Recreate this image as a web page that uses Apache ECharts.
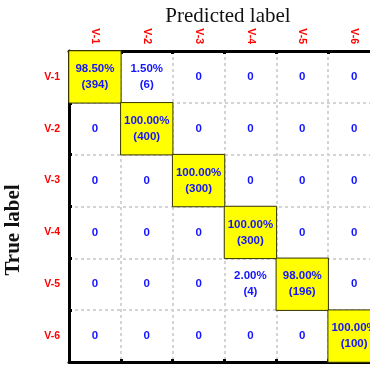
<!DOCTYPE html>
<html><head><meta charset="utf-8">
<script src="https://cdn.jsdelivr.net/npm/echarts@6/dist/echarts.min.js"></script>
<style>html,body{margin:0;padding:0;background:#fff}#c{width:370px;height:365px}</style>
</head><body><div id="c"></div>
<script>
const categories = ['V-1','V-2','V-3','V-4','V-5','V-6'];
// rows = true label, columns = predicted label
const counts = [
  [394, 6, 0, 0, 0, 0],
  [0, 400, 0, 0, 0, 0],
  [0, 0, 300, 0, 0, 0],
  [0, 0, 0, 300, 0, 0],
  [0, 0, 0, 4, 196, 0],
  [0, 0, 0, 0, 0, 100]
];
const xTitle = 'Predicted label';
const yTitle = 'True label';

const data = [];
counts.forEach((row, r) => {
  const total = row.reduce((a, b) => a + b, 0);
  row.forEach((v, c) => {
    const label = v === 0 ? '0' : (v / total * 100).toFixed(2) + '%\n(' + v + ')';
    data.push({
      value: [c, r, v],
      label: { formatter: label },
      itemStyle: r === c
        ? { color: '#ffff00', borderColor: '#333300', borderWidth: 1 }
        : { color: 'rgba(0,0,0,0)', borderWidth: 0 }
    });
  });
});

const chart = echarts.init(document.getElementById('c'), null, { renderer: 'canvas' });
const split = { show: true, interval: 0, lineStyle: { color: '#d4d4d4', width: 2, type: [3, 3] } };
const tick = { show: true, inside: true, length: 3, interval: 0, lineStyle: { color: '#000', width: 3 } };
const lblFont = { color: '#ff0000', fontWeight: 'bold', fontSize: 10.5, fontFamily: 'Liberation Sans, Arial', interval: 0 };
chart.setOption({
  animation: false,
  grid: { left: 69, top: 51, width: 311, height: 311, containLabel: false, outerBoundsMode: 'none' },
  xAxis: [{
    type: 'category', data: categories, position: 'top',
    axisLine: { show: true, lineStyle: { color: '#000', width: 3 } },
    axisTick: tick, splitLine: split,
    axisLabel: Object.assign({ rotate: 90, margin: 7 }, lblFont)
  }, {
    type: 'category', data: categories, position: 'bottom',
    axisLine: { show: true, lineStyle: { color: '#000', width: 3 } },
    axisTick: tick, axisLabel: { show: false }, splitLine: { show: false }
  }],
  yAxis: {
    type: 'category', data: categories, inverse: true,
    axisLine: { show: true, lineStyle: { color: '#000', width: 3 } },
    axisTick: tick, splitLine: split,
    axisLabel: Object.assign({ margin: 9 }, lblFont)
  },
  graphic: [
    { type: 'text', x: 228, y: 16, style: { text: xTitle, x: 0, y: 0, align: 'center', verticalAlign: 'middle', font: '21px "Liberation Serif", "Times New Roman", serif', fill: '#111' } },
    { type: 'text', x: 14, y: 230, rotation: Math.PI / 2, style: { text: yTitle, x: 0, y: 0, align: 'center', verticalAlign: 'middle', font: 'bold 21px "Liberation Serif", "Times New Roman", serif', fill: '#111' } }
  ],
  series: [{
    type: 'heatmap', xAxisIndex: 0, yAxisIndex: 0, data: data,
    label: { show: true, color: '#1414ff', fontWeight: 'bold', fontSize: 11.5, fontFamily: 'Liberation Sans, Arial', lineHeight: 16 },
    emphasis: { disabled: true }
  }]
});
</script></body></html>
